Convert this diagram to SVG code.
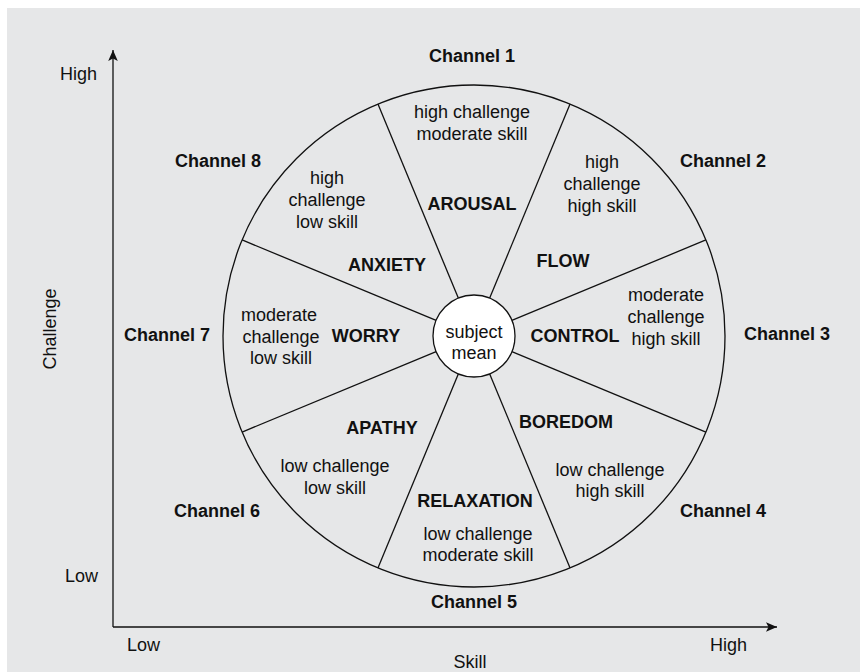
<svg xmlns="http://www.w3.org/2000/svg" width="860" height="672" viewBox="0 0 860 672">
  <defs>
    <marker id="arrow" markerUnits="userSpaceOnUse" markerWidth="14" markerHeight="12" viewBox="-12 -6 14 12" refX="0" refY="0" orient="auto">
      <path d="M0,0 L-11,-4.8 L-8.5,0 L-11,4.8 Z" fill="#111"/>
    </marker>
    <style>
      text { font-family: "Liberation Sans", Arial, Helvetica, sans-serif; font-size: 18px; fill: #111; }
      .b { font-weight: bold; }
      .m { text-anchor: middle; }
      .line { stroke: #111; stroke-width: 1.3; fill: none; }
    </style>
  </defs>
  <rect x="0" y="0" width="860" height="672" fill="#ffffff"/>
  <rect x="7" y="8" width="853" height="664" fill="#e6e7e8"/>

  <g id="axes">
    <line class="line" x1="113" y1="627" x2="113" y2="50" marker-end="url(#arrow)"/>
    <line class="line" x1="113" y1="627" x2="777" y2="627" marker-end="url(#arrow)"/>
    <text x="60" y="80">High</text>
    <text x="65" y="582">Low</text>
    <text x="127" y="651">Low</text>
    <text x="710" y="651">High</text>
    <text class="m" x="470" y="668">Skill</text>
    <text class="m" transform="translate(56,329) rotate(-90)">Challenge</text>
  </g>

  <g id="wheel">
    <circle class="line" cx="474" cy="336" r="251"/>
  </g>

  <g id="connectors">
    <line class="line" x1="489.69" y1="298.12" x2="570.05" y2="104.11"/>
    <line class="line" x1="511.88" y1="320.31" x2="705.89" y2="239.95"/>
    <line class="line" x1="511.88" y1="351.69" x2="705.89" y2="432.05"/>
    <line class="line" x1="489.69" y1="373.88" x2="570.05" y2="567.89"/>
    <line class="line" x1="458.31" y1="373.88" x2="377.95" y2="567.89"/>
    <line class="line" x1="436.12" y1="351.69" x2="242.11" y2="432.05"/>
    <line class="line" x1="436.12" y1="320.31" x2="242.11" y2="239.95"/>
    <line class="line" x1="458.31" y1="298.12" x2="377.95" y2="104.11"/>
  </g>

  <g id="center">
    <circle cx="474" cy="336" r="41" fill="#ffffff" stroke="#111" stroke-width="1.3"/>
    <text class="m" x="474" y="338">subject</text>
    <text class="m" x="474" y="359">mean</text>
  </g>

  <g id="channel1">
    <text class="b m" x="472" y="62">Channel 1</text>
    <text class="m" x="472" y="118">high challenge</text>
    <text class="m" x="472" y="140">moderate skill</text>
    <text class="b m" x="472" y="210">AROUSAL</text>
  </g>
  <g id="channel2">
    <text class="b m" x="723" y="167">Channel 2</text>
    <text class="m" x="602" y="168">high</text>
    <text class="m" x="602" y="190">challenge</text>
    <text class="m" x="602" y="212">high skill</text>
    <text class="b m" x="563" y="267">FLOW</text>
  </g>
  <g id="channel3">
    <text class="b m" x="787" y="340">Channel 3</text>
    <text class="m" x="666" y="301">moderate</text>
    <text class="m" x="666" y="323">challenge</text>
    <text class="m" x="666" y="345">high skill</text>
    <text class="b m" x="575" y="342">CONTROL</text>
  </g>
  <g id="channel4">
    <text class="b m" x="723" y="517">Channel 4</text>
    <text class="m" x="610" y="476">low challenge</text>
    <text class="m" x="610" y="497">high skill</text>
    <text class="b m" x="566" y="428">BOREDOM</text>
  </g>
  <g id="channel5">
    <text class="b m" x="474" y="608">Channel 5</text>
    <text class="b m" x="475" y="507">RELAXATION</text>
    <text class="m" x="478" y="540">low challenge</text>
    <text class="m" x="478" y="561">moderate skill</text>
  </g>
  <g id="channel6">
    <text class="b m" x="217" y="517">Channel 6</text>
    <text class="b m" x="382" y="434">APATHY</text>
    <text class="m" x="335" y="472">low challenge</text>
    <text class="m" x="335" y="494">low skill</text>
  </g>
  <g id="channel7">
    <text class="b m" x="167" y="341">Channel 7</text>
    <text class="m" x="279" y="321">moderate</text>
    <text class="m" x="281" y="343">challenge</text>
    <text class="m" x="281" y="364">low skill</text>
    <text class="b m" x="366" y="342">WORRY</text>
  </g>
  <g id="channel8">
    <text class="b m" x="218" y="167">Channel 8</text>
    <text class="m" x="327" y="184">high</text>
    <text class="m" x="327" y="206">challenge</text>
    <text class="m" x="327" y="228">low skill</text>
    <text class="b m" x="387" y="271">ANXIETY</text>
  </g>
</svg>
